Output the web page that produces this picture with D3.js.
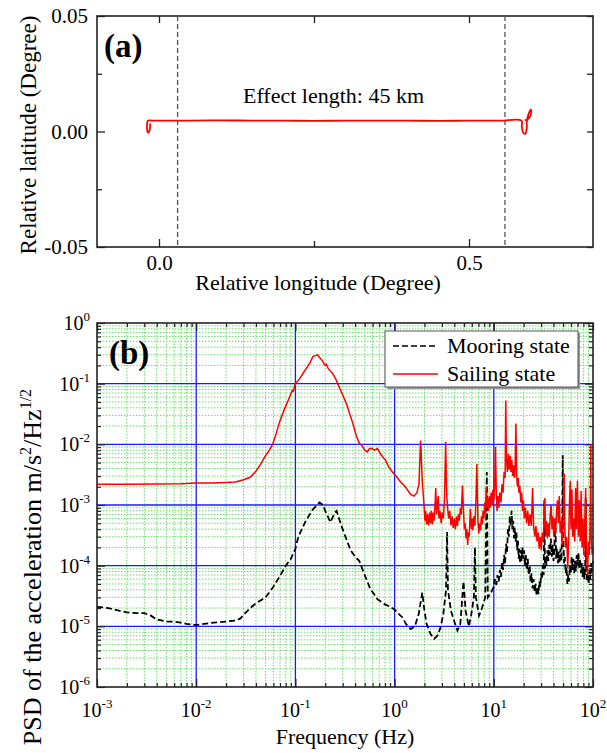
<!DOCTYPE html>
<html>
<head>
<meta charset="utf-8">
<script src="https://cdn.jsdelivr.net/npm/d3@7"></script>
<style>
  body { margin: 0; background: #fff; }
  text { font-family: "Liberation Serif", "Times New Roman", serif; fill: #000; }
</style>
</head>
<body>
<svg id="fig" width="607" height="753"></svg>
<script>
// ---- panel (a): ship track ----
const trackLon = [-0.014, -0.0155, -0.0175, -0.019, -0.019, -0.018, -0.01, 0.05, 0.1, 0.15, 0.2, 0.25, 0.3, 0.35, 0.4, 0.45, 0.5, 0.55, 0.5847, 0.5852, 0.5876, 0.5908, 0.5932, 0.5932, 0.5956, 0.5997, 0.6005, 0.5965, 0.5900];
const trackLat = [0.0035, 0.0002, -0.0006, 0.0005, 0.0035, 0.0047, 0.0047, 0.0047, 0.0048, 0.0047, 0.0047, 0.0046, 0.0047, 0.0047, 0.0047, 0.0046, 0.0047, 0.0047, 0.0047, 0.0020, -0.0006, -0.0010, 0.0016, 0.0042, 0.0072, 0.0095, 0.0085, 0.0057, 0.0048];
const effectBounds = [0.03, 0.558];
const lonTicks = [0, 0.5];
const lonMinor = [0.25];
const latTicks = [-0.05, 0, 0.05];
const latMinor = [-0.025, 0.025];

// ---- panel (b): PSD ----
const freqDecades = [1e-3, 1e-2, 1e-1, 1, 10, 100];
const psdDecades = [1e-6, 1e-5, 1e-4, 1e-3, 1e-2, 1e-1, 1];
const seriesNames = ['Mooring state', 'Sailing state'];

const mooringFreq = [0.001, 0.0013, 0.0017, 0.002, 0.0025, 0.003, 0.0035, 0.004, 0.005, 0.006, 0.007, 0.008, 0.01, 0.012, 0.015, 0.02, 0.025, 0.028, 0.03, 0.035, 0.04, 0.05, 0.06, 0.07, 0.08, 0.09, 0.1, 0.107, 0.126, 0.15, 0.175, 0.19, 0.2, 0.225, 0.25, 0.26, 0.29, 0.33, 0.36, 0.4, 0.44, 0.5, 0.57, 0.62, 0.67, 0.72, 0.8, 0.9, 1.0, 1.1, 1.2, 1.3, 1.45, 1.6, 1.75, 1.9, 2.0, 2.1, 2.3, 2.5, 2.7, 2.9, 3.1, 3.3, 3.38, 3.45, 3.7, 4.0, 4.3, 4.6, 4.95, 5.2, 5.6, 5.9, 6.3, 6.45, 6.6, 7.1, 7.6, 8.2, 8.5, 8.7, 9.3,
    10, 10.3, 10.6, 10.9, 11.2, 11.5, 11.8, 12.1, 12.4, 12.7, 13.0, 13.3, 13.6, 13.9, 14.2, 14.5, 14.8, 15.1, 15.4, 15.7, 16.0, 16.3, 16.6, 16.9, 17.2, 17.5, 17.8, 18.1, 18.4, 18.7, 19.0, 19.4, 19.8, 20.2, 20.6, 21.0, 21.5, 22.0, 22.5, 23.0, 23.5, 24.0, 24.6, 25.2, 25.8, 26.4, 27.0, 27.6, 28.2, 28.8, 29.4, 30.0, 30.6, 31.2, 31.8, 32.3, 32.8, 33.4, 34.0, 34.7, 35.4, 36.1, 36.8, 37.6, 38.4, 39.2, 40.0, 40.8, 41.7, 42.5, 43.4, 44.3, 45.2, 46.1, 47.0, 48.0, 48.9, 49.5, 50.1, 51.0, 52.0, 53.0, 54.1, 55.2, 56.3, 57.4, 58.5, 59.7, 60.9, 62.1, 63.3, 64.6, 65.9, 67.2, 68.5, 69.9, 71.3, 72.7, 74.1, 75.6, 77.1, 78.6, 80.2, 81.8, 83.4, 84.5, 85.3, 86.9, 88.6, 90.4, 92.2, 94.0, 95.9, 97.8, 100];
const mooringPsd = [2.1e-5, 2.0e-5, 1.8e-5, 1.7e-5, 1.65e-5, 1.65e-5, 1.5e-5, 1.3e-5, 1.2e-5, 1.2e-5, 1.15e-5, 1.1e-5, 1.05e-5, 1.1e-5, 1.15e-5, 1.2e-5, 1.25e-5, 1.35e-5, 1.55e-5, 2.0e-5, 2.4e-5, 3.0e-5, 4.5e-5, 6.8e-5, 1.0e-4, 1.3e-4, 1.9e-4, 3.0e-4, 5.3e-4, 8.5e-4, 1.1e-3, 1.0e-3, 8.0e-4, 5.2e-4, 7.5e-4, 8.0e-4, 4.6e-4, 2.6e-4, 1.8e-4, 1.4e-4, 1.2e-4, 7.0e-5, 4.1e-5, 3.4e-5, 2.8e-5, 2.6e-5, 2.3e-5, 2.1e-5, 1.9e-5, 1.6e-5, 1.4e-5, 1.1e-5, 9.0e-6, 1.0e-5, 1.6e-5, 3.6e-5, 1.8e-5, 1.1e-5, 7.5e-6, 6.2e-6, 7.0e-6, 9.5e-6, 1.6e-5, 4.0e-5, 3.6e-4, 4.0e-5, 1.8e-5, 1.2e-5, 8.5e-6, 1.1e-5, 5.5e-5, 1.8e-5, 1.0e-5, 1.5e-5, 3.0e-5, 2.0e-4, 3.0e-5, 1.5e-5, 2.0e-5, 3.0e-5, 3.5e-3, 3.0e-5, 3.5e-5,
    4.5e-5, 6.0e-5, 4.8e-5, 7.0e-5, 5.5e-5, 8.5e-5, 6.5e-5, 1.1e-4, 8.5e-5, 1.5e-4, 1.1e-4, 2.3e-4, 1.7e-4, 4.0e-4, 3.0e-4, 6.5e-4, 4.5e-4, 8.0e-4, 4.0e-4, 5.5e-4, 2.8e-4, 4.2e-4, 2.5e-4, 3.5e-4, 1.8e-4, 2.6e-4, 1.3e-4, 1.9e-4, 1.1e-4, 1.8e-4, 1.2e-4, 2.0e-4, 1.3e-4, 1.8e-4, 1.0e-4, 1.5e-4, 8.5e-5, 1.3e-4, 7.0e-5, 1.0e-4, 5.5e-5, 7.5e-5, 4.2e-5, 6.0e-5, 3.8e-5, 5.0e-5, 3.2e-5, 4.5e-5, 3.4e-5, 5.5e-5, 4.5e-5, 7.5e-5, 6.0e-5, 1.0e-4, 7.0e-5, 1.2e-3, 9.0e-5, 1.4e-4, 1.0e-4, 1.8e-4, 1.2e-4, 2.2e-4, 1.5e-4, 2.8e-4, 1.4e-4, 2.2e-4, 1.2e-4, 1.8e-4, 6.0e-4, 1.3e-4, 1.9e-4, 1.1e-4, 1.7e-4, 1.1e-4, 1.9e-4, 1.2e-4, 4.0e-4, 6.6e-3, 4.0e-4, 1.1e-4, 1.4e-4, 7.5e-5, 9.5e-5, 5.0e-5, 7.0e-5, 5.5e-5, 1.0e-4, 7.5e-5, 1.4e-4, 8.5e-5, 1.3e-4, 7.5e-5, 1.2e-4, 8.0e-5, 1.5e-4, 1.0e-4, 1.6e-4, 9.0e-5, 1.3e-4, 7.5e-5, 1.1e-4, 6.5e-5, 9.5e-5, 6.0e-5, 9.0e-5, 1.3e-3, 9.0e-5, 5.5e-5, 7.5e-5, 5.0e-5, 8.5e-5, 6.0e-5, 1.1e-4, 8.0e-5, 1.2e-4];

const sailingFreq = [0.001, 0.002, 0.004, 0.007, 0.01, 0.015, 0.02, 0.025, 0.03, 0.035, 0.04, 0.045, 0.05, 0.055, 0.059, 0.064, 0.069, 0.077, 0.087, 0.093, 0.095, 0.1, 0.11, 0.12, 0.128, 0.14, 0.15, 0.16, 0.167, 0.175, 0.187, 0.195, 0.2, 0.205, 0.215, 0.235, 0.255, 0.275, 0.3, 0.33, 0.35, 0.38, 0.41, 0.44, 0.47, 0.5, 0.53, 0.56, 0.59, 0.63, 0.67, 0.72, 0.77, 0.81, 0.87, 0.95, 1.05, 1.15, 1.25, 1.34, 1.45, 1.57, 1.68, 1.76, 1.83, 1.9,
    1.98, 2.02, 2.06, 2.1, 2.15, 2.2, 2.25, 2.3, 2.35, 2.4, 2.45, 2.5, 2.55, 2.6, 2.65, 2.7, 2.75, 2.8, 2.87, 2.95, 3.02, 3.1, 3.18, 3.27, 3.35, 3.42, 3.5, 3.6, 3.7, 3.8, 3.9, 4.0, 4.1, 4.2, 4.3, 4.4, 4.5, 4.6, 4.7, 4.83, 4.95, 5.05, 5.15, 5.25, 5.35, 5.45, 5.55, 5.65, 5.8, 5.95, 6.05, 6.15, 6.3, 6.45, 6.6, 6.75, 6.9, 7.05, 7.2, 7.35, 7.5, 7.65, 7.8, 7.95, 8.1, 8.25, 8.4, 8.55, 8.7, 8.85, 9.0, 9.2, 9.4, 9.6, 9.8, 10.0, 10.2, 10.4, 10.6, 10.8, 11.0, 11.2, 11.5, 11.8, 12.1, 12.4, 12.7, 13.0, 13.2, 13.4, 13.7, 14.0, 14.3, 14.6, 14.9, 15.2, 15.5, 15.8, 16.1, 16.4, 16.7, 17.0, 17.3, 17.6, 17.9, 18.3, 18.7, 19.1, 19.5, 19.9, 20.3, 20.8, 21.4, 22.0, 22.6, 23.2, 23.9, 24.6, 25.2, 25.9, 26.6, 27.3, 28.0, 28.7, 29.4, 30.1, 30.8, 31.5, 32.2, 32.7, 33.3, 34.0, 34.7, 35.4, 36.2, 37.0, 37.8, 38.6, 39.4, 40.2, 41.1, 42.0, 42.9, 43.8, 44.7, 45.7, 46.7, 47.7, 48.7, 49.8, 50.6, 51.3, 52.0, 53.1, 54.3, 55.6, 56.8, 58.0, 59.0, 60.0, 61.3, 62.6, 64.0, 65.4, 66.8, 68.2, 69.7, 71.2, 72.7, 74.3, 75.9, 77.5, 79.2, 80.9, 82.6, 84.4, 86.2, 88.0, 89.9, 91.9, 93.9, 95.0, 96.0, 98.0, 100];
const sailingPsd = [2.2e-3, 2.2e-3, 2.22e-3, 2.25e-3, 2.3e-3, 2.3e-3, 2.35e-3, 2.4e-3, 2.6e-3, 2.86e-3, 3.6e-3, 4.8e-3, 6.5e-3, 8.2e-3, 1.0e-2, 1.5e-2, 2.3e-2, 3.7e-2, 5.9e-2, 7.7e-2, 7.5e-2, 0.1, 0.12, 0.15, 0.175, 0.22, 0.28, 0.29, 0.3, 0.27, 0.24, 0.21, 0.2, 0.21, 0.175, 0.15, 0.12, 0.09, 6.5e-2, 4.5e-2, 3.3e-2, 2.2e-2, 1.4e-2, 1.05e-2, 9.5e-3, 8.0e-3, 7.5e-3, 8.5e-3, 8.5e-3, 8.0e-3, 8.5e-3, 7.0e-3, 6.0e-3, 5.5e-3, 4.3e-3, 3.5e-3, 2.9e-3, 2.4e-3, 2.1e-3, 1.8e-3, 1.5e-3, 1.4e-3, 1.6e-3, 2.2e-3, 1.15e-2, 2.5e-3,
    1.0e-3, 5.5e-4, 8.0e-4, 4.8e-4, 7.0e-4, 4.6e-4, 7.5e-4, 5.0e-4, 8.0e-4, 4.8e-4, 7.5e-4, 5.5e-4, 9.0e-4, 1.9e-3, 7.0e-4, 1.0e-3, 1.4e-3, 6.0e-4, 8.0e-4, 5.0e-4, 7.5e-4, 6.0e-4, 1.2e-3, 1.1e-2, 1.5e-3, 9.0e-4, 6.0e-4, 8.0e-4, 4.6e-4, 6.5e-4, 4.2e-4, 6.0e-4, 4.0e-4, 6.5e-4, 4.5e-4, 7.0e-4, 5.5e-4, 9.0e-4, 7.0e-4, 2.1e-3, 8.0e-4, 4.0e-4, 5.0e-4, 2.8e-4, 4.0e-4, 2.2e-4, 3.5e-4, 3.0e-4, 8.7e-4, 4.0e-4, 6.0e-4, 3.8e-4, 6.5e-4, 4.5e-4, 1.2e-3, 4.8e-3, 6.0e-4, 3.4e-4, 5.0e-4, 3.8e-4, 6.5e-4, 4.8e-4, 8.0e-4, 6.0e-4, 1.1e-3, 7.0e-4, 2.0e-3, 9.0e-4, 1.3e-3, 8.0e-4, 1.4e-3, 9.0e-4, 1.6e-3, 1.0e-3, 1.8e-3, 1.2e-3, 2.0e-3, 9.0e-3, 1.5e-3, 8.0e-4, 1.4e-3, 9.0e-4, 1.6e-3, 1.1e-3, 2.2e-3, 1.6e-3, 3.5e-3, 2.8e-3, 5.3e-2, 6.0e-3, 3.5e-3, 7.0e-3, 3.8e-3, 6.5e-3, 3.5e-3, 5.5e-3, 3.0e-3, 4.5e-3, 2.8e-3, 4.0e-3, 2.2e-2, 3.0e-3, 2.0e-3, 2.8e-3, 1.6e-3, 2.1e-3, 1.1e-3, 1.6e-3, 8.0e-4, 1.2e-3, 6.0e-4, 9.0e-4, 5.0e-4, 8.0e-4, 4.5e-4, 7.0e-4, 4.5e-4, 1.9e-3, 4.5e-4, 3.0e-4, 4.5e-4, 2.5e-4, 3.5e-4, 1.9e-4, 3.0e-4, 1.8e-4, 3.5e-4, 2.5e-4, 6.0e-4, 1.3e-3, 3.0e-4, 5.5e-4, 2.8e-4, 5.0e-4, 3.0e-4, 7.0e-4, 1.0e-3, 4.0e-4, 6.5e-4, 3.0e-4, 6.0e-4, 3.5e-4, 8.0e-4, 1.2e-3, 5.0e-4, 1.4e-3, 3.5e-4, 5.5e-4, 2.2e-4, 4.5e-4, 1.2e-3, 3.3e-3, 4.0e-4, 2.0e-4, 3.0e-4, 9.0e-5, 2.5e-4, 1.2e-3, 2.5e-3, 4.0e-4, 1.8e-3, 3.0e-4, 6.0e-4, 2.5e-4, 1.9e-3, 4.0e-4, 2.5e-3, 3.0e-4, 1.2e-3, 2.5e-4, 1.7e-3, 2.0e-4, 6.0e-4, 1.5e-4, 5.0e-4, 1.9e-3, 1.5e-4, 7.0e-5, 2.5e-4, 1.5e-4, 6.0e-4, 1.0e-2, 3.0e-4, 1.5e-4, 2.0e-4];

const svg = d3.select('#fig');

// ================= panel (a) =================
const xA = d3.scaleLinear().domain([-0.1, 0.7]).range([97, 593]);
const yA = d3.scaleLinear().domain([-0.05, 0.05]).range([247, 16]);
const gA = svg.append('g');

// inward ticks on all four sides
const tickA = (axis, vals, size) => axis.tickValues(vals).tickSizeInner(-size).tickSizeOuter(0);
gA.append('g').attr('transform', 'translate(0,247)')
    .call(tickA(d3.axisBottom(xA), lonTicks, 8).tickPadding(8).tickFormat(d => d.toFixed(1)));
gA.append('g').attr('transform', 'translate(0,247)')
    .call(tickA(d3.axisBottom(xA), lonMinor, 6).tickFormat(''));
gA.append('g').attr('transform', 'translate(0,16)')
    .call(tickA(d3.axisTop(xA), lonTicks.concat(lonMinor), 7).tickFormat(''));
gA.append('g').attr('transform', 'translate(97,0)')
    .call(tickA(d3.axisLeft(yA), latTicks, 8).tickPadding(9).tickFormat(d => d.toFixed(2)));
gA.append('g').attr('transform', 'translate(97,0)')
    .call(tickA(d3.axisLeft(yA), latMinor, 5).tickFormat(''));
gA.append('g').attr('transform', 'translate(593,0)')
    .call(tickA(d3.axisRight(yA), latTicks.concat(latMinor), 6).tickFormat(''));
gA.selectAll('.domain').remove();
gA.selectAll('.tick line').attr('stroke', '#222').attr('stroke-width', 1.3);
gA.selectAll('.tick text').attr('font-size', 21).attr('font-family', '"Liberation Serif", serif');

gA.append('rect').attr('x', 97).attr('y', 16).attr('width', 496).attr('height', 231)
    .attr('fill', 'none').attr('stroke', '#222').attr('stroke-width', 1.6);

// effect-length boundaries
gA.selectAll('line.bound')
    .data(effectBounds)
    .enter()
    .append('line')
    .attr('class', 'bound')
    .attr('x1', d => xA(d)).attr('x2', d => xA(d))
    .attr('y1', yA(0.05)).attr('y2', yA(-0.05))
    .attr('stroke', '#555').attr('stroke-width', 1.3).attr('stroke-dasharray', '5,3');

const trackLine = d3.line()
    .x((d, i) => xA(trackLon[i]))
    .y(d => yA(d))
    .curve(d3.curveCatmullRom);
gA.append('path')
    .attr('d', trackLine(trackLat))
    .attr('fill', 'none').attr('stroke', '#ff0000').attr('stroke-width', 1.8);

gA.append('text').attr('x', 243).attr('y', 103).attr('font-size', 22).text('Effect length: 45 km');
gA.append('text').attr('x', 104).attr('y', 57).attr('font-size', 33).attr('font-weight', 'bold').text('(a)');
gA.append('text').attr('x', 318).attr('y', 290).attr('text-anchor', 'middle').attr('font-size', 22)
    .text('Relative longitude (Degree)');
gA.append('text').attr('transform', 'translate(36,135) rotate(-90)').attr('text-anchor', 'middle')
    .attr('font-size', 23).text('Relative latitude (Degree)');

// ================= panel (b) =================
const xB = d3.scaleLog().domain([1e-3, 1e2]).range([97, 593]);
const yB = d3.scaleLog().domain([1e-6, 1]).range([687, 323]);
const gB = svg.append('g');

const minorOf = decs => decs.slice(0, -1).flatMap(d => d3.range(2, 10).map(k => k * d));
const freqMinor = minorOf(freqDecades);
const psdMinor = minorOf(psdDecades);

// minor grid (green dotted)
gB.append('g').selectAll('line')
    .data(freqMinor)
    .enter()
    .append('line')
    .attr('x1', d => xB(d)).attr('x2', d => xB(d)).attr('y1', 323).attr('y2', 687)
    .attr('stroke', '#66dd66').attr('stroke-width', 1).attr('stroke-dasharray', '1.5,1.5');
gB.append('g').selectAll('line')
    .data(psdMinor)
    .enter()
    .append('line')
    .attr('y1', d => yB(d)).attr('y2', d => yB(d)).attr('x1', 97).attr('x2', 593)
    .attr('stroke', '#66dd66').attr('stroke-width', 1).attr('stroke-dasharray', '1.5,1.5');

// major grid (blue)
gB.append('g').selectAll('line')
    .data(freqDecades.slice(1, -1))
    .enter()
    .append('line')
    .attr('x1', d => xB(d)).attr('x2', d => xB(d)).attr('y1', 323).attr('y2', 687)
    .attr('stroke', '#1a1aff').attr('stroke-width', 1.3);
gB.append('g').selectAll('line')
    .data(psdDecades.slice(1, -1))
    .enter()
    .append('line')
    .attr('y1', d => yB(d)).attr('y2', d => yB(d)).attr('x1', 97).attr('x2', 593)
    .attr('stroke', '#1a1aff').attr('stroke-width', 1.3);

// ticks on all sides, inward
const tickB = (axis, vals, size) => axis.tickValues(vals).tickSizeInner(-size).tickSizeOuter(0).tickFormat('');
gB.append('g').attr('transform', 'translate(0,687)').call(tickB(d3.axisBottom(xB), freqDecades, 8));
gB.append('g').attr('transform', 'translate(0,687)').call(tickB(d3.axisBottom(xB), freqMinor, 4));
gB.append('g').attr('transform', 'translate(0,323)').call(tickB(d3.axisTop(xB), freqDecades, 8));
gB.append('g').attr('transform', 'translate(0,323)').call(tickB(d3.axisTop(xB), freqMinor, 4));
gB.append('g').attr('transform', 'translate(97,0)').call(tickB(d3.axisLeft(yB), psdDecades, 8));
gB.append('g').attr('transform', 'translate(97,0)').call(tickB(d3.axisLeft(yB), psdMinor, 4));
gB.append('g').attr('transform', 'translate(593,0)').call(tickB(d3.axisRight(yB), psdDecades, 8));
gB.append('g').attr('transform', 'translate(593,0)').call(tickB(d3.axisRight(yB), psdMinor, 4));
gB.selectAll('.domain').remove();
gB.selectAll('.tick line').attr('stroke', '#222').attr('stroke-width', 1.2);

// power-of-ten labels
const expLabel = (sel) => {
    sel.text('10');
    sel.append('tspan').attr('dy', -9).attr('font-size', 13)
        .text(d => String(Math.round(Math.log10(d))));
};
gB.append('g').selectAll('text')
    .data(freqDecades)
    .enter()
    .append('text')
    .attr('x', d => xB(d)).attr('y', 717).attr('text-anchor', 'middle').attr('font-size', 20)
    .call(expLabel);
gB.append('g').selectAll('text')
    .data(psdDecades)
    .enter()
    .append('text')
    .attr('x', 90).attr('y', d => yB(d) + 7).attr('text-anchor', 'end').attr('font-size', 20)
    .call(expLabel);

// series
const psdLine = freqs => d3.line()
    .x((d, i) => xB(freqs[i]))
    .y(d => yB(d));
gB.append('path')
    .attr('d', psdLine(mooringFreq)(mooringPsd))
    .attr('fill', 'none').attr('stroke', '#000').attr('stroke-width', 1.8)
    .attr('stroke-dasharray', '6,3');
gB.append('path')
    .attr('d', psdLine(sailingFreq)(sailingPsd))
    .attr('fill', 'none').attr('stroke', '#ff0000').attr('stroke-width', 1.5);

gB.append('rect').attr('x', 97).attr('y', 323).attr('width', 496).attr('height', 364)
    .attr('fill', 'none').attr('stroke', '#222').attr('stroke-width', 1.6);

// legend
const legend = gB.append('g');
legend.append('rect').attr('x', 387).attr('y', 333).attr('width', 193).attr('height', 56).attr('fill', '#999');
legend.append('rect').attr('x', 385).attr('y', 331).attr('width', 193).attr('height', 56)
    .attr('fill', '#fff').attr('stroke', '#555').attr('stroke-width', 1);
const legendStyles = [{ color: '#000', dash: '6,3' }, { color: '#ff0000', dash: null }];
seriesNames.forEach((name, i) => {
    const y = 346 + i * 28;
    legend.append('line').attr('x1', 393).attr('x2', 438).attr('y1', y).attr('y2', y)
        .attr('stroke', legendStyles[i].color).attr('stroke-width', 1.6)
        .attr('stroke-dasharray', legendStyles[i].dash);
    legend.append('text').attr('x', 447).attr('y', y + 7).attr('font-size', 22).text(name);
});

gB.append('text').attr('x', 109).attr('y', 364).attr('font-size', 33).attr('font-weight', 'bold').text('(b)');
gB.append('text').attr('x', 345).attr('y', 744).attr('text-anchor', 'middle').attr('font-size', 22)
    .text('Frequency (Hz)');

const yTitle = gB.append('text').attr('transform', 'translate(41,567) rotate(-90)')
    .attr('text-anchor', 'middle').attr('font-size', 26);
yTitle.append('tspan').text('PSD of the acceleration m/s');
yTitle.append('tspan').attr('dy', -10).attr('font-size', 16).text('2');
yTitle.append('tspan').attr('dy', 10).text('/Hz');
yTitle.append('tspan').attr('dy', -10).attr('font-size', 16).text('1/2');
</script>
</body>
</html>
